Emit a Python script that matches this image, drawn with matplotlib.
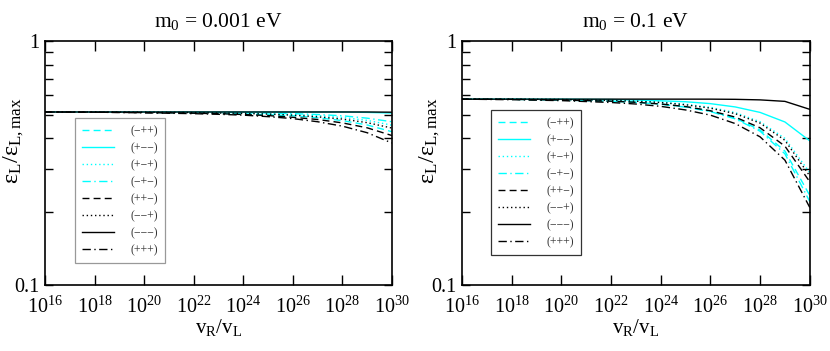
#!/usr/bin/env python3
"""
Efficiency ratio vs v_R/v_L for two lightest neutrino masses.
"""

import matplotlib
matplotlib.use('Agg')
import matplotlib.pyplot as plt
from matplotlib.ticker import NullLocator, FixedLocator, NullFormatter

# log10(v_R/v_L) sample points
log_vr = [16, 18, 20, 22, 23, 24, 25, 26, 27, 28, 29, 30]

labels = ['(\u2212++)', '(+\u2212\u2212)', '(+\u2212+)', '(\u2212+\u2212)',
          '(++\u2212)', '(\u2212\u2212+)', '(\u2212\u2212\u2212)', '(+++)']

# m0 = 0.001 eV
left_mpp = [0.512, 0.512, 0.510, 0.508, 0.506, 0.503, 0.499, 0.494, 0.485, 0.472, 0.453, 0.425]
left_pmm = [0.512, 0.512, 0.512, 0.512, 0.512, 0.512, 0.512, 0.512, 0.512, 0.512, 0.510, 0.507]
left_pmp = [0.512, 0.512, 0.511, 0.510, 0.509, 0.507, 0.504, 0.501, 0.495, 0.486, 0.473, 0.452]
left_mpm = [0.512, 0.512, 0.512, 0.511, 0.510, 0.509, 0.507, 0.504, 0.500, 0.494, 0.483, 0.467]
left_ppm = [0.512, 0.511, 0.509, 0.506, 0.504, 0.500, 0.495, 0.487, 0.477, 0.462, 0.441, 0.410]
left_mmp = [0.512, 0.512, 0.511, 0.509, 0.507, 0.505, 0.502, 0.497, 0.489, 0.479, 0.463, 0.440]
left_mmm = [0.512, 0.512, 0.512, 0.512, 0.512, 0.512, 0.512, 0.512, 0.512, 0.512, 0.512, 0.511]
left_ppp = [0.512, 0.511, 0.508, 0.504, 0.501, 0.497, 0.490, 0.481, 0.467, 0.448, 0.421, 0.382]

# m0 = 0.1 eV
right_mpp = [0.578, 0.577, 0.573, 0.567, 0.561, 0.552, 0.538, 0.516, 0.483, 0.432, 0.354, 0.233]
right_pmm = [0.578, 0.578, 0.578, 0.576, 0.573, 0.569, 0.564, 0.554, 0.537, 0.510, 0.466, 0.390]
right_pmp = [0.578, 0.578, 0.576, 0.572, 0.568, 0.562, 0.551, 0.535, 0.509, 0.467, 0.399, 0.289]
right_mpm = [0.578, 0.577, 0.573, 0.567, 0.561, 0.551, 0.536, 0.514, 0.480, 0.427, 0.345, 0.220]
right_ppm = [0.578, 0.577, 0.573, 0.567, 0.561, 0.552, 0.539, 0.518, 0.488, 0.441, 0.371, 0.265]
right_mmp = [0.578, 0.578, 0.576, 0.571, 0.567, 0.560, 0.548, 0.531, 0.504, 0.461, 0.392, 0.280]
right_mmm = [0.578, 0.578, 0.578, 0.578, 0.578, 0.578, 0.578, 0.578, 0.577, 0.574, 0.566, 0.525]
right_ppp = [0.578, 0.575, 0.570, 0.560, 0.552, 0.540, 0.522, 0.497, 0.459, 0.405, 0.325, 0.208]

left_series = [left_mpp, left_pmm, left_pmp, left_mpm, left_ppm, left_mmp, left_mmm, left_ppp]
right_series = [right_mpp, right_pmm, right_pmp, right_mpm, right_ppm, right_mmp, right_mmm, right_ppp]

titles = ['m$_0$ = 0.001 eV', 'm$_0$ = 0.1 eV']
x_ticks = [16, 18, 20, 22, 24, 26, 28, 30]

CYAN = '#00ffff'
styles = [
    (CYAN, (0, (5, 3))),
    (CYAN, '-'),
    (CYAN, (0, (1, 2))),
    (CYAN, (0, (6, 2.5, 1, 2.5))),
    ('black', (0, (5, 3))),
    ('black', (0, (1, 2))),
    ('black', '-'),
    ('black', (0, (6, 2.5, 1, 2.5))),
]

plt.rcParams['font.family'] = 'Liberation Serif'
plt.rcParams['mathtext.fontset'] = 'custom'
plt.rcParams['mathtext.rm'] = 'Liberation Serif'
plt.rcParams['mathtext.it'] = 'Liberation Serif:italic'


def draw_panel(ax, series, title, legend_pos, legend_edge, ylabel_x):
    xs = [10.0 ** v for v in log_vr]
    for vals, (color, ls), lab in zip(series, styles, labels):
        ax.plot(xs, vals, color=color, linestyle=ls, linewidth=1.0, label=lab)

    ax.set_xscale('log')
    ax.set_yscale('log')
    ax.set_xlim(1e16, 1e30)
    ax.set_ylim(0.1, 1)

    ax.xaxis.set_major_locator(FixedLocator([10.0 ** t for t in x_ticks]))
    ax.xaxis.set_minor_locator(NullLocator())
    ax.set_xticklabels(['$10^{%d}$' % t for t in x_ticks])
    ax.yaxis.set_major_locator(FixedLocator([0.1, 1]))
    ax.set_yticklabels(['0.1', '1'])
    ax.yaxis.set_minor_locator(FixedLocator([0.2, 0.3, 0.4, 0.5, 0.6, 0.7, 0.8, 0.9]))
    ax.yaxis.set_minor_formatter(NullFormatter())

    ax.tick_params(axis='x', which='major', direction='in', top=True, length=7,
                   width=1, labelsize=14.5, pad=8)
    ax.tick_params(axis='y', which='both', direction='in', right=True, length=6,
                   width=1, labelsize=14.5, pad=4)
    for sp in ax.spines.values():
        sp.set_linewidth(1.2)

    ax.set_title(title, fontsize=15.5, pad=10)
    ax.set_xlabel('v$_\\mathrm{R}$/v$_\\mathrm{L}$', fontsize=15, labelpad=0)
    ax.set_ylabel('\u03b5$_\\mathrm{L}$/\u03b5$_\\mathrm{L,max}$', fontsize=17.5)
    # label sits beside the tick labels, a bit above centre as in the original
    ax.yaxis.set_label_coords(ylabel_x, 0.59)

    leg = ax.legend(loc='upper left', bbox_to_anchor=legend_pos, borderaxespad=0,
                    fontsize=8.5, handlelength=2.7, handletextpad=1.4,
                    labelspacing=0.42, borderpad=0.6, fancybox=False,
                    framealpha=1, edgecolor=legend_edge)
    leg.get_frame().set_linewidth(0.9)
    for t in leg.get_texts():
        t.set_color('#333333')


fig = plt.figure(figsize=(8.3, 3.51), dpi=100)
ax1 = fig.add_axes([0.0542, 0.188, 0.418, 0.695])
ax2 = fig.add_axes([0.5566, 0.188, 0.419, 0.695])

draw_panel(ax1, left_series, titles[0], (0.0865, 0.684), '#999999', -0.055)
draw_panel(ax2, right_series, titles[1], (0.083, 0.717), '#333333', -0.058)

fig.savefig('out.png', dpi=100)
